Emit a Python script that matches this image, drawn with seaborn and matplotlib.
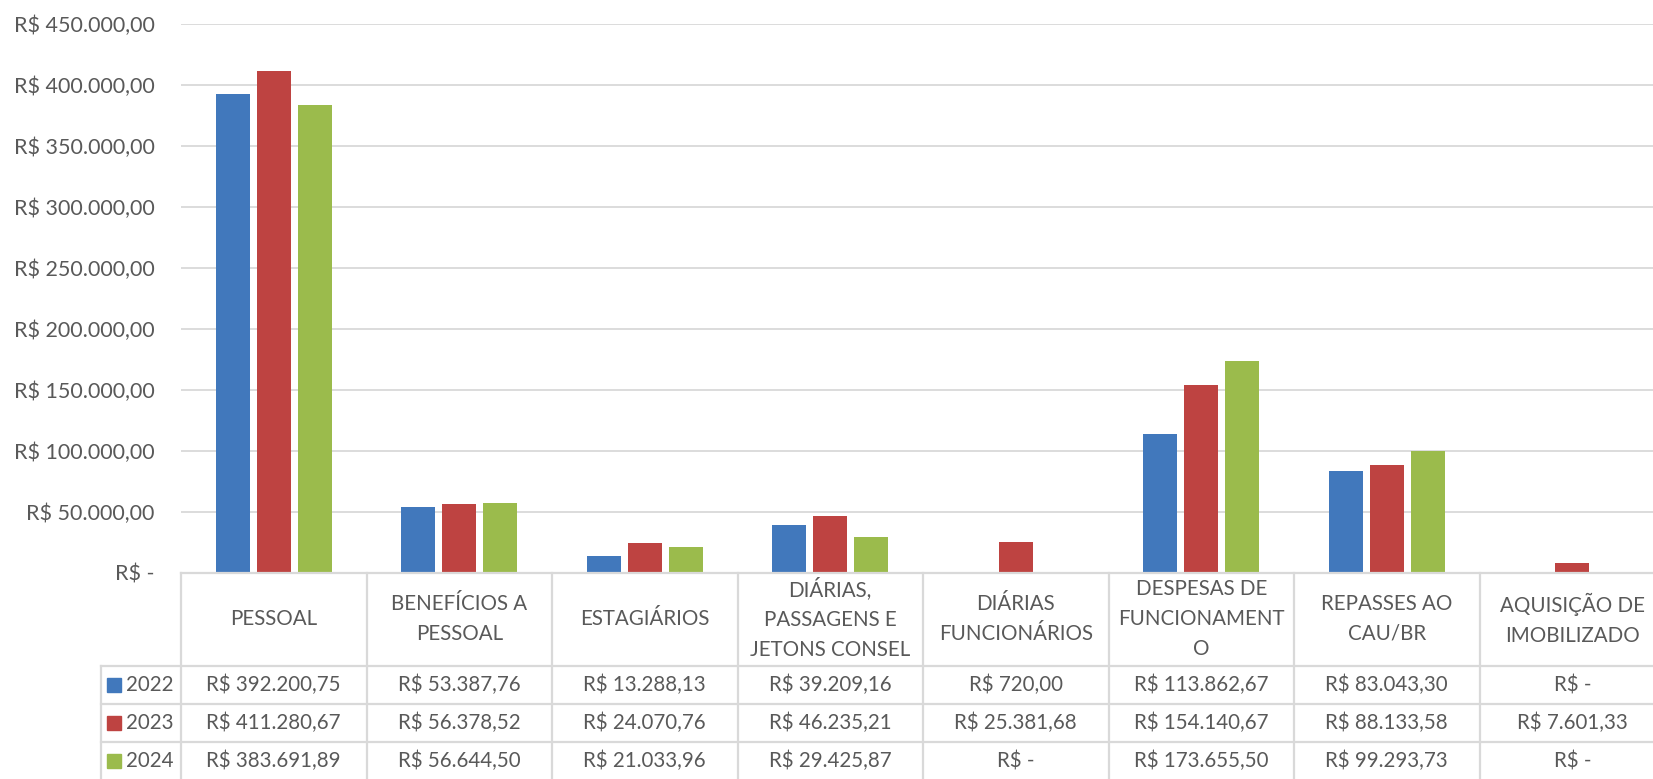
import pandas as pd
import numpy as np
import matplotlib
matplotlib.use("Agg")
import matplotlib.pyplot as plt
import matplotlib.transforms as mtransforms
from matplotlib.patches import Rectangle
from matplotlib.ticker import FuncFormatter, MultipleLocator
import seaborn as sns

# dados do grafico (valores da tabela)
categorias = ["PESSOAL", "BENEFÍCIOS A\nPESSOAL", "ESTAGIÁRIOS",
              "DIÁRIAS,\nPASSAGENS E\nJETONS CONSEL", "DIÁRIAS\nFUNCIONÁRIOS",
              "DESPESAS DE\nFUNCIONAMENT\nO", "REPASSES AO\nCAU/BR",
              "AQUISIÇÃO DE\nIMOBILIZADO"]
anos = ["2022", "2023", "2024"]
valores_2022 = [392200.75, 53387.76, 13288.13, 39209.16, 720.00, 113862.67, 83043.30, 0.0]
valores_2023 = [411280.67, 56378.52, 24070.76, 46235.21, 25381.68, 154140.67, 88133.58, 7601.33]
valores_2024 = [383691.89, 56644.50, 21033.96, 29425.87, 0.0, 173655.50, 99293.73, 0.0]
cores = ["#4178BC", "#BE4341", "#9BBB4C"]

series = [valores_2022, valores_2023, valores_2024]

df = pd.DataFrame({
    "categoria": categorias * 3,
    "ano": np.repeat(anos, len(categorias)),
    "valor": valores_2022 + valores_2023 + valores_2024,
})


def reais(v):
    if v == 0:
        return "R$ -"
    s = f"{v:,.2f}".replace(",", "X").replace(".", ",").replace("X", ".")
    return "R$ " + s


cinza = "#595959"
linha = "#D9D9D9"
plt.rcParams["font.family"] = ["Lato", "DejaVu Sans"]

W, H = 1653, 779
fig = plt.figure(figsize=(W / 100, H / 100), dpi=100)
y0, ytop = 572.5, 24.0          # pixel do zero e do topo
x0, cat_w = 181.0, 185.5        # inicio do eixo e largura de cada categoria
ax = fig.add_axes([x0 / W, 1 - y0 / H, cat_w * 8 / W, (y0 - ytop) / H])

sns.barplot(data=df, x="categoria", y="valor", hue="ano", palette=cores,
            width=0.663, gap=0.17, saturation=1, legend=False, ax=ax)

ax.set_xlim(-0.5, 7.5)
ax.set_ylim(0, 450000)
ax.yaxis.set_major_locator(MultipleLocator(50000))
ax.yaxis.set_major_formatter(FuncFormatter(lambda v, p: "R$ -" if v == 0 else reais(v)))
ax.yaxis.grid(True, color=linha, lw=1.3)
ax.set_axisbelow(True)
for s in ax.spines.values():
    s.set_visible(False)
ax.tick_params(axis="y", length=0, pad=19, labelsize=15.5, labelcolor=cinza)
ax.tick_params(axis="x", length=0, labelbottom=False)
ax.set_xlabel("")
ax.set_ylabel("")

# tabela de dados abaixo do grafico
trans = mtransforms.blended_transform_factory(ax.transData, ax.transAxes)


def ay(px):
    return (y0 - px) / (y0 - ytop)


def dx(px):
    return (px - x0) / cat_w - 0.5


x_leg = dx(101)
fundo = ay(800)
kw = dict(transform=trans, clip_on=False, color=linha, lw=1.6)
ax.plot([-0.5, 7.5], [0, 0], **kw)
for yy in [666, 704, 742]:
    ax.plot([x_leg, 7.5], [ay(yy), ay(yy)], **kw)
for i in range(9):
    ax.plot([i - 0.5, i - 0.5], [0, fundo], **kw)
ax.plot([x_leg, x_leg], [ay(666), fundo], **kw)

for i, cat in enumerate(categorias):
    ax.text(i, ay(619), cat, transform=trans, ha="center", va="center",
            fontsize=14.8, color=cinza, linespacing=1.62)

linhas_y = [685, 723, 761]
for j, (ano, vals, cor) in enumerate(zip(anos, series, cores)):
    yc = linhas_y[j]
    ax.add_patch(Rectangle((dx(107), ay(yc + 7)), 14 / cat_w, 14 / (y0 - ytop),
                           transform=trans, clip_on=False, color=cor))
    ax.text(dx(126), ay(yc), ano, transform=trans, ha="left", va="center",
            fontsize=14.8, color=cinza)
    for i, v in enumerate(vals):
        ax.text(i, ay(yc), reais(v), transform=trans, ha="center", va="center",
                fontsize=14.8, color=cinza)

fig.savefig("out.png", dpi=100)
